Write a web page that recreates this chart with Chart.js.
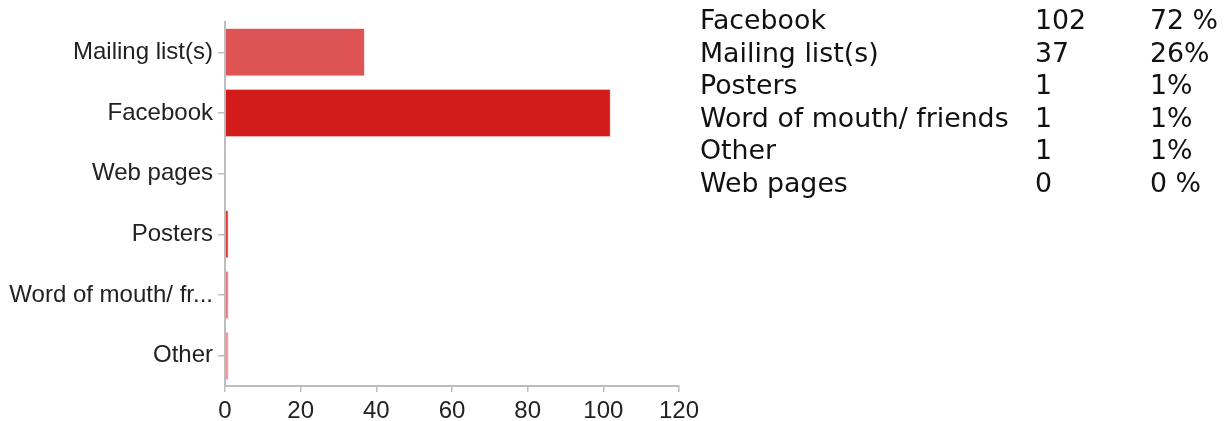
<!DOCTYPE html>
<html>
<head>
<meta charset="utf-8">
<script src="https://cdn.jsdelivr.net/npm/chart.js@4/dist/chart.umd.min.js"></script>
<style>
    body { margin: 0; background: #fff; width: 1225px; height: 421px; overflow: hidden; position: relative; }
    .chart-box { position: absolute; left: 0; top: 0; width: 704px; height: 421px; }
    .summary { position: absolute; left: 700px; top: 4px; border-collapse: collapse; font-family: "DejaVu Sans", Verdana, sans-serif; font-size: 26.8px; color: #111; }
    .summary td { padding: 0; line-height: 32.5px; height: 32.5px; white-space: nowrap; }
</style>
</head>
<body>
<div class="chart-box"><canvas id="sourceChart"></canvas></div>
<table class="summary" id="summary"></table>
<script>
// bar chart data (top to bottom)
const categories = ['Mailing list(s)', 'Facebook', 'Web pages', 'Posters', 'Word of mouth/ fr...', 'Other'];
const responses = [37, 102, 0, 1, 1, 1];
const barColors = ['#de5454', '#d21b1b', '#de5454', '#dc3838', '#e8737a', '#ee9196'];
const xTicks = [0, 20, 40, 60, 80, 100, 120];

// summary table on the right
const tableLabels = ['Facebook', 'Mailing list(s)', 'Posters', 'Word of mouth/ friends', 'Other', 'Web pages'];
const tableCounts = ['102', '37', '1', '1', '1', '0'];
const tablePercents = ['72 %', '26%', '1%', '1%', '1%', '0 %'];

document.addEventListener('DOMContentLoaded', function() {
    // Build the summary table
    const table = document.getElementById('summary');
    tableLabels.forEach((label, i) => {
        const row = document.createElement('tr');
        row.innerHTML = '<td style="width:335px">' + label + '</td>' +
            '<td style="width:115px">' + tableCounts[i] + '</td>' +
            '<td>' + tablePercents[i] + '</td>';
        table.appendChild(row);
    });

    const axisGrey = '#bdbdbd';
    const ctx = document.getElementById('sourceChart').getContext('2d');
    new Chart(ctx, {
        type: 'bar',
        data: {
            labels: categories,
            datasets: [{
                data: responses,
                backgroundColor: barColors,
                borderColor: 'rgba(255, 200, 200, 0.6)',
                borderWidth: 1,
                categoryPercentage: 1.0,
                barPercentage: 0.8
            }]
        },
        options: {
            indexAxis: 'y',
            responsive: true,
            maintainAspectRatio: false,
            animation: false,
            layout: {
                padding: { top: 22, right: 0, bottom: 0, left: 0 }
            },
            plugins: {
                legend: { display: false },
                tooltip: { enabled: false }
            },
            scales: {
                x: {
                    min: 0,
                    max: 120,
                    afterBuildTicks: function(scale) {
                        scale.ticks = xTicks.map(v => ({ value: v }));
                    },
                    afterFit: function(scale) { scale.height = 35; },
                    border: { color: axisGrey, width: 2 },
                    grid: { drawOnChartArea: false, color: axisGrey, tickLength: 6, lineWidth: 1.5 },
                    ticks: {
                        color: '#222',
                        padding: 5,
                        font: { family: 'Liberation Sans, Arial', size: 24 }
                    }
                },
                y: {
                    afterFit: function(scale) { scale.width = 225; },
                    border: { color: axisGrey, width: 2 },
                    grid: { drawOnChartArea: false, offset: false, color: axisGrey, tickLength: 7, lineWidth: 1.5 },
                    ticks: {
                        color: '#222',
                        padding: 5,
                        font: { family: 'Liberation Sans, Arial', size: 24 }
                    }
                }
            }
        }
    });
});
</script>
</body>
</html>
